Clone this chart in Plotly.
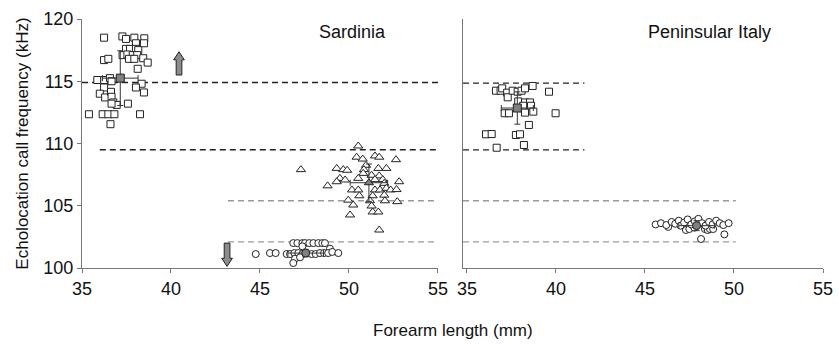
import plotly.graph_objects as go

# ---------------- data ----------------
# Sardinia, squares (high-frequency group)
sar_sq_x = [36.24, 37.27, 37.47, 37.94, 38.5, 38.03, 38.48, 37.47, 37.7, 38.03, 38.16, 37.28, 37.55,
            37.85, 38.1, 37.64, 37.94, 38.44, 38.69, 36.24, 36.48, 38.13, 35.86, 36.25, 36.57, 36.66,
            38.35, 38.03, 38.48, 36.24, 36.0, 36.3, 36.63, 36.66, 36.76, 36.95, 36.66, 37.58, 35.39,
            36.16, 36.48, 36.82, 38.26, 36.6]
sar_sq_y = [118.5, 118.6, 118.4, 118.5, 118.45, 118.05, 118.05, 117.6, 117.6, 117.6, 117.5, 117.1, 117.15,
            117.1, 117.1, 116.8, 116.8, 116.85, 116.5, 116.7, 116.8, 116.0, 115.1, 115.1, 115.25, 115.0,
            114.8, 114.5, 114.1, 114.5, 114.0, 113.7, 114.15, 113.75, 113.3, 113.1, 113.2, 113.2, 112.35,
            112.35, 112.35, 112.35, 112.35, 111.55]
# Sardinia, triangles
sar_tr_x = [50.52, 50.43, 50.77, 51.46, 51.7, 52.64, 47.3, 49.31, 49.68, 49.9, 50.96, 50.84, 50.8,
            51.65, 52.1, 51.27, 51.7, 49.49, 49.78, 49.31, 48.8, 50.52, 51.46, 51.9, 51.98, 52.82,
            50.17, 50.52, 51.46, 51.74, 52.1, 52.34, 52.67, 50.58, 51.33, 51.98, 49.96, 50.24, 51.18,
            51.27, 52.02, 52.71, 51.33, 51.65, 50.06, 51.7]
sar_tr_y = [109.8, 108.9, 108.75, 109.0, 108.9, 108.7, 107.9, 108.0, 107.9, 107.85, 108.25, 107.9, 107.6,
            108.0, 108.0, 107.45, 107.4, 107.2, 107.07, 106.93, 106.6, 107.2, 107.1, 107.1, 106.8, 106.93,
            106.27, 106.27, 106.27, 106.27, 106.4, 106.27, 106.3, 105.8, 105.8, 105.85, 105.45, 105.06, 105.4,
            104.98, 105.4, 105.33, 104.5, 104.5, 104.26, 103.05]
# Sardinia, circles
sar_ci_x = [46.87, 47.1, 47.38, 47.53, 47.77, 48.0, 48.28, 48.5, 48.65, 47.38, 48.93, 44.76, 45.56,
            45.88, 46.5, 46.69, 46.93, 47.15, 47.38, 47.9, 48.13, 48.37, 48.6, 48.83, 49.06, 49.4,
            46.97, 46.87, 47.25]
sar_ci_y = [102.0, 102.0, 102.0, 102.0, 102.0, 102.0, 102.0, 102.0, 102.0, 101.74, 101.55, 101.12, 101.2,
            101.2, 101.12, 101.12, 101.2, 101.2, 101.12, 101.12, 101.12, 101.2, 101.2, 101.2, 101.29, 101.2,
            100.75, 100.4, 100.86]
# Peninsular Italy, squares
ita_sq_x = [36.63, 36.89, 36.98, 37.26, 37.29, 37.57, 37.85, 38.07, 38.26, 38.69, 39.61, 37.88, 38.26,
            38.54, 38.16, 38.6, 37.12, 37.36, 38.26, 38.73, 39.98, 38.48, 36.07, 36.39, 37.75, 37.98,
            38.2, 36.67]
ita_sq_y = [114.24, 114.24, 114.43, 114.08, 113.71, 114.24, 114.16, 114.24, 114.43, 114.62, 114.16, 113.38, 113.3,
            113.3, 113.03, 113.03, 112.43, 112.43, 112.48, 112.56, 112.43, 111.49, 110.74, 110.76, 110.68, 110.74,
            109.88, 109.66]
# Peninsular Italy, circles
ita_ci_x = [46.31, 47.3, 47.49, 47.77, 48.37, 48.52, 48.65, 48.83, 49.46, 48.15, 45.6, 45.9, 46.2,
            46.5, 46.7, 46.9, 47.0, 47.2, 47.4, 47.6, 47.8, 48.0, 48.2, 48.4, 48.6, 48.8,
            49.0, 49.2, 49.4, 49.7]
ita_ci_y = [103.3, 103.05, 103.13, 103.24, 103.13, 103.05, 103.13, 103.13, 102.7, 102.33, 103.5, 103.6, 103.45,
            103.7, 103.55, 103.8, 103.4, 103.65, 103.9, 103.5, 103.75, 103.95, 103.6, 103.4, 103.7, 103.5,
            103.8, 103.6, 103.45, 103.6]

# group means and SDs: [x, y, sdx, sdy]
sar_means = [[37.15, 115.25, 1.0, 2.2], [51.12, 106.85, 1.05, 1.5], [47.57, 101.2, 1.0, 0.3]]
ita_means = [[47.9, 103.4, 1.0, 0.4]]
ita_sq_mean = [[37.83, 112.85, 0.9, 1.3]]

# threshold lines: y, x start, x end
sar_black = [[114.9, 35.0, 55.0], [109.5, 36.0, 55.0]]
sar_gray = [[105.4, 43.2, 55.0], [102.1, 43.2, 55.0]]
ita_black = [[114.85, 34.78, 41.6], [109.48, 34.78, 41.6]]
ita_gray = [[105.4, 34.78, 50.1], [102.1, 34.78, 50.1]]

# arrows: x, y from, y to
arrows = [[40.45, 115.5, 117.37], [43.15, 102.0, 100.13]]

x_ticks = [35, 40, 45, 50, 55]
y_ticks = [100, 105, 110, 115, 120]

FONT = "Liberation Sans, Arial, Helvetica, sans-serif"

fig = go.Figure()

def pts(x, y, sym, size, xa, ya):
    fig.add_trace(go.Scatter(x=x, y=y, mode="markers", xaxis=xa, yaxis=ya, showlegend=False,
                             marker=dict(symbol=sym, size=size, color="white",
                                         line=dict(color="#222222", width=1))))

def line(spec, color, xa, ya):
    for yv, x0, x1 in spec:
        fig.add_trace(go.Scatter(x=[x0, x1], y=[yv, yv], mode="lines", xaxis=xa, yaxis=ya,
                                 showlegend=False,
                                 line=dict(color=color, width=1.3, dash="6px,4px")))

line(sar_black, "#222222", "x", "y")
line(sar_gray, "#9a9a9a", "x", "y")
line(ita_black, "#222222", "x2", "y2")
line(ita_gray, "#9a9a9a", "x2", "y2")

pts(sar_sq_x, sar_sq_y, "square", 7, "x", "y")
pts(sar_tr_x, sar_tr_y, "triangle-up", 8, "x", "y")
pts(sar_ci_x, sar_ci_y, "circle", 7, "x", "y")
pts(ita_sq_x, ita_sq_y, "square", 7, "x2", "y2")
pts(ita_ci_x, ita_ci_y, "circle", 7, "x2", "y2")

groups = [(sar_means, ["square", "triangle-up", "circle"], "x", "y"),
          (ita_sq_mean, ["square"], "x2", "y2"),
          (ita_means, ["circle"], "x2", "y2")]
for means, syms, xa, ya in groups:
    for m, s in zip(means, syms):
        fig.add_trace(go.Scatter(
            x=[m[0]], y=[m[1]], mode="markers", xaxis=xa, yaxis=ya, showlegend=False,
            error_x=dict(type="data", array=[m[2]], color="#333333", thickness=1, width=3),
            error_y=dict(type="data", array=[m[3]], color="#333333", thickness=1, width=3),
            marker=dict(symbol=s, size=8, color="#808080", line=dict(color="#222222", width=1))))

# block arrows
shapes = []
bw, hw = 0.16, 0.3
for ax, y0, y1 in arrows:
    d = 1 if y1 > y0 else -1
    hb = y1 - d * 0.65
    path = (f"M {ax-bw},{y0} L {ax-bw},{hb} L {ax-hw},{hb} L {ax},{y1} L {ax+hw},{hb} "
            f"L {ax+bw},{hb} L {ax+bw},{y0} Z")
    shapes.append(dict(type="path", path=path, xref="x", yref="y",
                       fillcolor="#8c8c8c", line=dict(color="#222222", width=1)))

axis_common = dict(showgrid=False, zeroline=False, showline=True, linecolor="#777777", linewidth=1,
                   ticks="outside", ticklen=4, tickcolor="#777777", automargin=False,
                   tickfont=dict(family=FONT, size=18, color="#111111"))

fig.update_layout(
    width=839, height=345,
    margin=dict(l=82, r=16, t=19, b=77),
    paper_bgcolor="white", plot_bgcolor="white",
    shapes=shapes,
    xaxis=dict(domain=[0, 0.4804], range=[35, 55], tickvals=x_ticks, anchor="y", **axis_common),
    xaxis2=dict(domain=[0.5142, 1], range=[34.78, 55], tickvals=x_ticks, anchor="y2", **axis_common),
    yaxis=dict(domain=[0, 1], range=[100, 120], tickvals=y_ticks, anchor="x",
               title=dict(text="Echolocation call frequency (kHz)", standoff=10,
                          font=dict(family=FONT, size=17, color="#111111")), **axis_common),
    yaxis2=dict(domain=[0, 1], range=[100, 120], tickvals=y_ticks, anchor="x2", automargin=False,
                showticklabels=False, showgrid=False, zeroline=False, showline=True,
                linecolor="#777777", linewidth=1, ticks=""),
    annotations=[
        dict(text="Sardinia", x=50.17, y=118.96, xref="x", yref="y", showarrow=False,
             font=dict(family=FONT, size=18, color="#111111")),
        dict(text="Peninsular Italy", x=48.65, y=118.96, xref="x2", yref="y2", showarrow=False,
             font=dict(family=FONT, size=18, color="#111111")),
        dict(text="Forearm length (mm)", x=0.5, y=-0.249, xref="paper", yref="paper",
             showarrow=False, yanchor="middle",
             font=dict(family=FONT, size=17, color="#111111")),
    ],
)

fig.write_html("out.html", config={"displayModeBar": False},
               post_script="document.body.style.margin='0';")
